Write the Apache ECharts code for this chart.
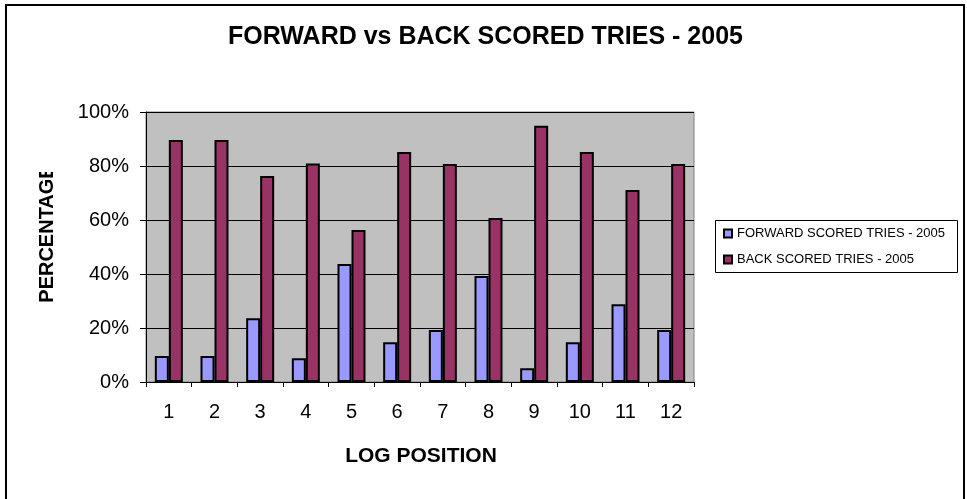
<!DOCTYPE html>
<html>
<head>
<meta charset="utf-8">
<title>FORWARD vs BACK SCORED TRIES - 2005</title>
<script src="https://cdn.jsdelivr.net/npm/echarts@6/dist/echarts.min.js"></script>
<style>
  html, body { margin: 0; padding: 0; background: #ffffff; }
  #chart { width: 967px; height: 499px; }
</style>
</head>
<body>
<div id="chart"></div>
<script>
// Log positions 1-12 on the category axis
const logPositions = ['1', '2', '3', '4', '5', '6', '7', '8', '9', '10', '11', '12'];
// Share of tries (%) scored by forwards and backs at each log position
const forwardTries = [9.6, 9.6, 23.6, 8.8, 43.7, 14.7, 19.3, 39.3, 5.1, 14.7, 28.8, 19.3];
const backTries = [89.6, 89.6, 76.3, 80.9, 56.3, 85.2, 80.7, 60.7, 94.9, 85.2, 71.1, 80.7];
const seriesNames = ['FORWARD SCORED TRIES - 2005', 'BACK SCORED TRIES - 2005'];
const percentTicks = { min: 0, max: 100, step: 20 };

const FONT = '"Liberation Sans", Arial, Helvetica, sans-serif';
const chart = echarts.init(document.getElementById('chart'), null, { renderer: 'canvas' });

const option = {
  animation: false,
  backgroundColor: '#ffffff',
  grid: {
    left: 146, top: 112, width: 548, height: 270,
    show: true,
    backgroundColor: '#C0C0C0',
    borderColor: '#808080',
    borderWidth: 1
  },
  legend: {
    orient: 'vertical',
    left: 723,
    top: 227,
    itemWidth: 8,
    itemHeight: 8,
    itemGap: 13,
    padding: 0,
    icon: 'rect',
    data: seriesNames,
    textStyle: { fontFamily: FONT, fontSize: 13, color: '#000', lineHeight: 13 }
  },
  xAxis: {
    type: 'category',
    data: logPositions,
    axisLine: { lineStyle: { color: '#000', width: 1 } },
    axisTick: { show: true, length: 5, lineStyle: { color: '#000' } },
    axisLabel: { fontFamily: FONT, fontSize: 20, color: '#000', margin: 20 },
    splitLine: { show: false }
  },
  yAxis: {
    type: 'value',
    min: percentTicks.min,
    max: percentTicks.max,
    interval: percentTicks.step,
    axisLine: { show: true, lineStyle: { color: '#000', width: 1 } },
    axisTick: { show: true, length: 6, lineStyle: { color: '#000' } },
    axisLabel: { fontFamily: FONT, fontSize: 20, color: '#000', margin: 17, formatter: '{value}%' },
    splitLine: { show: true, lineStyle: { color: '#000', width: 1 } }
  },
  series: [
    {
      name: seriesNames[0],
      type: 'bar',
      data: forwardTries,
      barWidth: 14,
      barGap: '0%',
      itemStyle: { color: '#9999FF', borderColor: '#000', borderWidth: 2 }
    },
    {
      name: seriesNames[1],
      type: 'bar',
      data: backTries,
      barWidth: 14,
      barGap: '0%',
      itemStyle: { color: '#993366', borderColor: '#000', borderWidth: 2 }
    }
  ],
  graphic: [
    {
      type: 'rect', z: -10,
      shape: { x: 6, y: 5, width: 958, height: 500 },
      style: { fill: '#ffffff', stroke: '#000', lineWidth: 2 }
    },
    {
      type: 'rect', z: 1,
      shape: { x: 715.5, y: 220.5, width: 242, height: 52 },
      style: { fill: '#ffffff', stroke: '#000', lineWidth: 1 }
    },
    {
      type: 'text', z: 5,
      x: 485.5, y: 37,
      style: {
        text: 'FORWARD vs BACK SCORED TRIES - 2005',
        font: 'bold 25px ' + FONT,
        fill: '#000', textAlign: 'center', textVerticalAlign: 'middle'
      }
    },
    {
      type: 'text', z: 5,
      x: 421, y: 456,
      style: {
        text: 'LOG POSITION',
        font: 'bold 21px ' + FONT,
        fill: '#000', textAlign: 'center', textVerticalAlign: 'middle'
      }
    },
    {
      type: 'text', z: 5,
      x: 47.5, y: 234, rotation: Math.PI / 2,
      style: {
        text: 'PERCENTAGE',
        font: 'bold 20px ' + FONT,
        fill: '#000', textAlign: 'center', textVerticalAlign: 'middle'
      }
    },
    {
      // white band above the rotated axis title, trimming its last letter
      type: 'rect', z: 6,
      shape: { x: 30, y: 120, width: 34, height: 52 },
      style: { fill: '#ffffff' }
    }
  ]
};

chart.setOption(option);
</script>
</body>
</html>
